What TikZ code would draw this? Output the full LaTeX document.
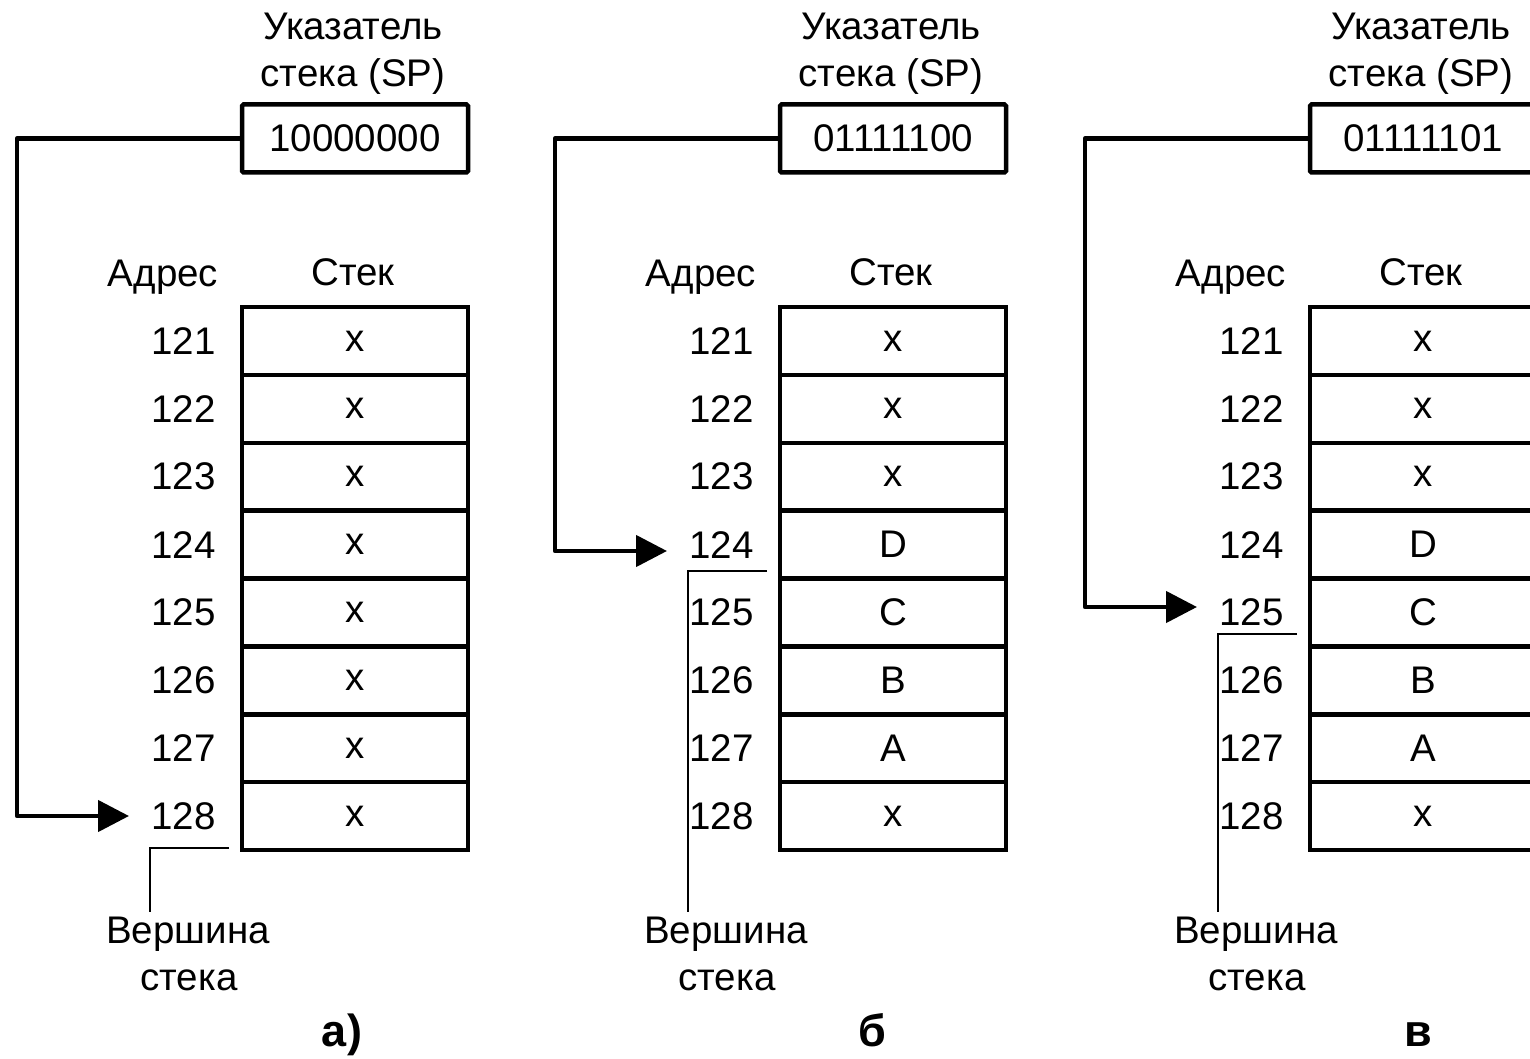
\documentclass[tikz,border=0pt]{standalone}
\usepackage{fontspec}
\setmainfont{Liberation Sans}
\usetikzlibrary{arrows.meta}

\tikzset{
  txt/.style={font=\fontsize{38.5}{46}\selectfont, inner sep=0pt},
  spbox/.style={draw, line width=4.5pt, minimum width=226pt, minimum height=68pt,
                rounded corners=1.5pt, inner sep=0pt},
  cell/.style={draw, line width=4.5pt, minimum width=226pt, minimum height=67.875pt,
               inner sep=0pt},
  ptr/.style={line width=4.5pt, line join=round, -{Triangle[length=31pt,width=31pt]}},
  topline/.style={line width=1.5pt},
  tag/.style={font=\fontsize{45}{52}\selectfont\bfseries, inner sep=0pt},
}

% One stack state:
% #1 x offset, #2 name prefix, #3 SP value, #4 cell contents (121..128),
% #5 y of the pointer arrow, #6 y of the top-of-stack mark, #7 caption, #8 caption x
\newcommand\stackpanel[8]{%
  \begin{scope}[xshift=#1]
    \node[txt, anchor=base] (#2-t1) at (353,40) {Указатель};
    \node[txt, anchor=base] (#2-t2) at (353,87) {стека (SP)};
    \node[spbox, txt] (#2-sp) at (355,138.5) {#3};
    \node[txt, anchor=base] (#2-adr) at (163,287) {Адрес};
    \node[txt, anchor=base] (#2-stk) at (353,285) {Стек};
    \foreach \v [count=\i] in {#4} {
      \node[cell, txt] (#2-c\i) at (355,{307+67.875*(\i-0.5)}) {\v};
      \node[txt, anchor=east] (#2-a\i) at (216,{307+67.875*(\i-0.5)})
        {\the\numexpr120+\i\relax};
    }
    % stack pointer
    \coordinate (#2-bend) at (17,#5);
    \coordinate (#2-tip) at (129,#5);
    \draw[ptr] (#2-sp.west) -| (#2-bend) -- (#2-tip);
    % top of stack mark
    \node[txt, anchor=base] (#2-ver) at (188,943) {Вершина};
    \node[txt, anchor=base] (#2-ver2) at (189,990) {стека};
    \coordinate (#2-m1) at (229,#6);
    \coordinate (#2-m2) at (150,#6);
    \draw[topline] (#2-m1) -- (#2-m2) -- ([yshift=4pt]#2-m2 |- #2-ver.north);
    \node[tag, anchor=base] (#2-tag) at (#8,1046) {#7};
  \end{scope}}

\begin{document}
\begin{tikzpicture}[x=1pt, y=-1pt]
  \clip (0,0) rectangle (1530,1059);
  \fill[white] (0,0) rectangle (1530,1059);
  \stackpanel{0pt}{a}{10000000}{x,x,x,x,x,x,x,x}{816}{848}{а)}{342}
  \stackpanel{538pt}{b}{01111100}{x,x,x,D,C,B,A,x}{551}{571}{б}{334}
  \stackpanel{1068pt}{c}{01111101}{x,x,x,D,C,B,A,x}{607}{634}{в}{350}
\end{tikzpicture}
\end{document}
